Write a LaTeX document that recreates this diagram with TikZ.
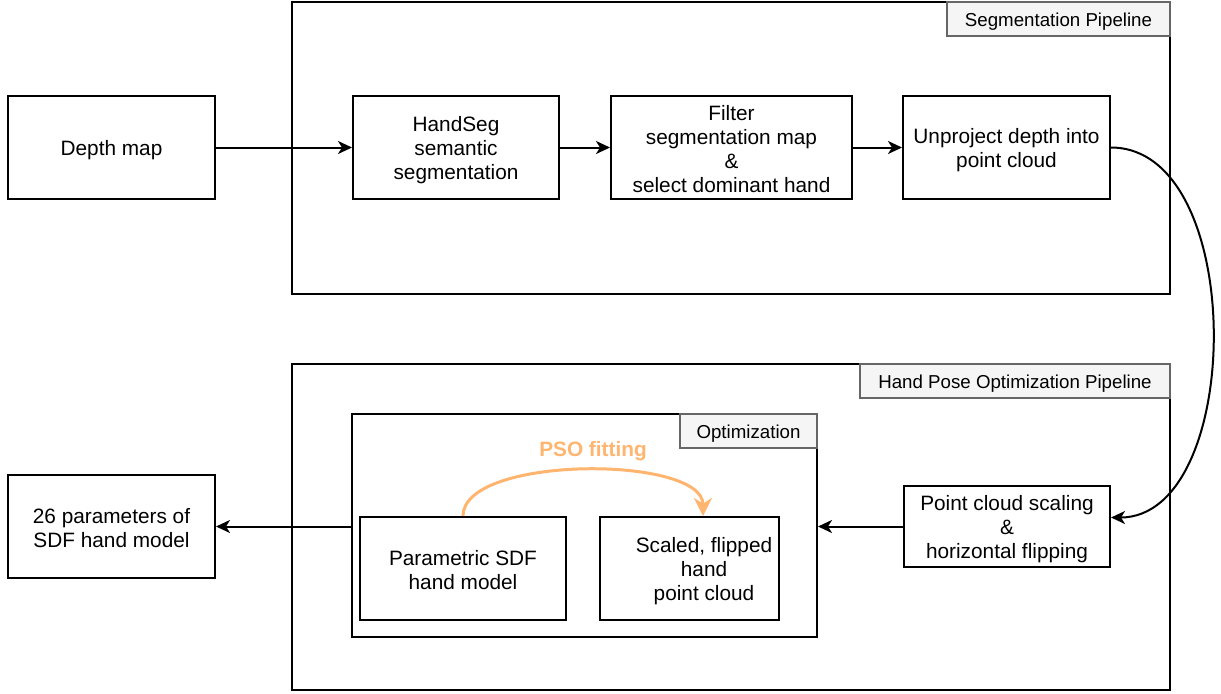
\documentclass[tikz,border=0pt]{standalone}
\usepackage{fontspec}
\setmainfont{Liberation Sans}
\usetikzlibrary{arrows.meta}
\definecolor{psoorange}{HTML}{FFB570}
\definecolor{tabfill}{HTML}{F5F5F5}
\definecolor{tabline}{HTML}{666666}
\newcommand\linetop{\rule{0pt}{10.6pt}}
\newcommand\linebot{\rule[-1.4pt]{0pt}{1.4pt}}
\begin{document}
\begin{tikzpicture}[x=0.5pt,y=-0.5pt,
	font=\fontsize{10.4}{12}\selectfont,
	box/.style={draw,line width=1pt,align=center,inner sep=0pt,
		execute at begin node={\linetop},
		execute at end node={\linebot}},
	pipe/.style={draw,line width=1pt,inner sep=0pt},
	tab/.style={draw=tabline,fill=tabfill,line width=1pt,inner sep=0pt,font=\fontsize{9.35}{11}\selectfont,
		execute at begin node={\rule[-1.65pt]{0pt}{11pt}}},
	flow/.style={line width=1pt,-{Stealth[length=7pt,width=6.5pt,inset=2pt]}},
	psoflow/.style={draw=psoorange,line width=1.5pt,-{Stealth[length=9pt,width=9pt,inset=2.8pt]}}]
		\useasboundingbox (0,0) rectangle (1221,693);
		% segmentation pipeline
		\node [pipe,minimum width=439pt,minimum height=146pt] (segpipe) at (731,148) {};
		\node [tab,minimum width=111.5pt,minimum height=17pt] (seglabel) at (1058.5,19) {Segmentation Pipeline};
		\node [box,minimum width=103.5pt,minimum height=51.5pt] (depth) at (111.5,147.5) {Depth map};
		\node [box,minimum width=103pt,minimum height=51.5pt] (handseg) at (456,147.5) {\linetop HandSeg\\semantic\\segmentation\linebot};
		\node [box,minimum width=120.5pt,minimum height=51.5pt] (filter) at (731.5,147.5) {\linetop Filter\\segmentation map\\\&\\select dominant hand\linebot};
		\node [box,minimum width=103.5pt,minimum height=51.5pt] (unproject) at (1006.5,147.5) {\linetop Unproject depth into\\point cloud\linebot};
		% hand pose optimization pipeline
		\node [pipe,minimum width=439pt,minimum height=163pt] (posepipe) at (731,527) {};
		\node [tab,minimum width=155pt,minimum height=17pt] (poselabel) at (1015,381) {Hand Pose Optimization Pipeline};
		\node [pipe,minimum width=232.5pt,minimum height=111.5pt] (optim) at (584.5,525.5) {};
		\node [tab,minimum width=68.5pt,minimum height=17pt] (optlabel) at (748.5,431) {Optimization};
		\node [box,minimum width=103pt,minimum height=51.5pt] (sdf) at (463,568.5) {\linetop Parametric SDF\\hand model\linebot};
		\node [box,minimum width=89.5pt,minimum height=51.5pt] (scaled) at (689.5,568.5) {\linetop\hspace*{14.5pt}Scaled, flipped\\\hspace*{14.5pt}hand\\\hspace*{14.5pt}point cloud\linebot};
		\node [box,minimum width=103pt,minimum height=40.5pt] (scaling) at (1007,526.5) {\linetop Point cloud scaling\\\&\\horizontal flipping\linebot};
		\node [box,minimum width=103.5pt,minimum height=51.5pt] (params) at (111.5,526.5) {\linetop 26 parameters of\\SDF hand model\linebot};
		% connectors
		\draw [flow] (depth) -- (handseg);
		\draw [flow] (handseg) -- (filter);
		\draw [flow] (filter) -- (unproject);
		\draw [flow] (unproject.east) .. controls +(137,0) and +(134,0) .. ([yshift=4.5pt]scaling.east);
		\draw [flow] (scaling.west) -- (optim.east |- scaling.west);
		\draw [flow] (optim.west |- scaling.west) -- (params.east |- scaling.west);
		\draw [psoflow] (sdf.north) .. controls +(0,-61) and +(0,-61) .. ([xshift=6.75pt]scaled.north);
		\node [text=psoorange,font=\bfseries\fontsize{10.4}{12}\selectfont] (pso) at (593,451) {PSO fitting};
\end{tikzpicture}
\end{document}
